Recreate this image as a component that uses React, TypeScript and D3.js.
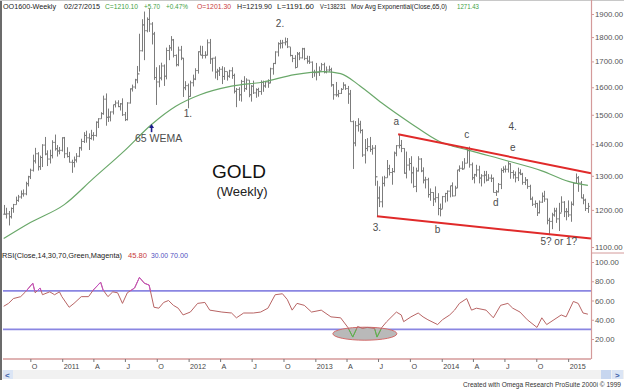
import React, { useEffect, useRef } from 'react';
import * as d3 from 'd3';

const width = 624;
const height = 390;

// visible date range of the chart and first weekly bar (week ending Friday)
const startDate = '2010-07-14';
const endDate = '2015-03-08';
const firstWeek = '2010-07-16';

// weekly bars: [high, low, close]
const bars2010 = [
  [1214, 1187, 1188], [1206, 1176, 1189], [1197, 1157, 1181], [1207, 1176, 1204],
  [1217, 1192, 1215], [1238, 1215, 1227], [1243, 1223, 1237], [1256, 1232, 1246],
  [1259, 1238, 1246], [1282, 1242, 1276], [1300, 1268, 1297], [1322, 1290, 1317],
  [1366, 1313, 1346], [1388, 1338, 1369], [1374, 1316, 1328], [1363, 1318, 1357],
  [1400, 1327, 1397], [1424, 1364, 1368], [1380, 1330, 1352], [1382, 1338, 1363],
  [1413, 1354, 1406], [1432, 1379, 1385], [1397, 1360, 1378], [1391, 1367, 1380],
  [1423, 1376, 1421],
];
const bars2011 = [
  [1424, 1355, 1369], [1390, 1357, 1360], [1375, 1341, 1342], [1350, 1309, 1341],
  [1360, 1326, 1349], [1371, 1341, 1361], [1391, 1358, 1388], [1418, 1379, 1409],
  [1440, 1404, 1429], [1445, 1405, 1421], [1436, 1381, 1419], [1448, 1415, 1429],
  [1440, 1412, 1429], [1477, 1425, 1474], [1488, 1454, 1486], [1509, 1486, 1504],
  [1569, 1500, 1556], [1577, 1462, 1491], [1522, 1475, 1492], [1512, 1477, 1510],
  [1536, 1501, 1536], [1551, 1526, 1542], [1552, 1527, 1529], [1542, 1515, 1539],
  [1559, 1496, 1500], [1510, 1478, 1483], [1545, 1480, 1542], [1596, 1540, 1594],
  [1610, 1584, 1601], [1632, 1594, 1628], [1682, 1615, 1651], [1814, 1660, 1743],
  [1877, 1740, 1852], [1911, 1705, 1827], [1885, 1820, 1876], [1923, 1822, 1856],
  [1864, 1769, 1813], [1822, 1628, 1637], [1677, 1535, 1620], [1685, 1600, 1635],
  [1695, 1626, 1682], [1688, 1605, 1642], [1756, 1630, 1744], [1767, 1705, 1755],
  [1804, 1743, 1788], [1792, 1716, 1724], [1728, 1680, 1687], [1760, 1681, 1746],
  [1763, 1705, 1713], [1714, 1564, 1598], [1623, 1589, 1606], [1614, 1523, 1566],
];
const bars2012 = [
  [1625, 1565, 1617], [1648, 1603, 1631], [1673, 1627, 1664], [1741, 1652, 1739],
  [1764, 1725, 1725], [1763, 1711, 1724], [1741, 1712, 1725], [1790, 1724, 1776],
  [1792, 1690, 1710], [1714, 1660, 1713], [1720, 1633, 1658], [1671, 1627, 1662],
  [1678, 1643, 1669], [1681, 1612, 1641], [1677, 1628, 1660], [1659, 1625, 1642],
  [1667, 1636, 1663], [1677, 1632, 1645], [1652, 1577, 1585], [1597, 1527, 1592],
  [1600, 1550, 1572], [1628, 1547, 1622], [1642, 1583, 1595], [1634, 1590, 1627],
  [1627, 1563, 1572], [1608, 1547, 1604], [1625, 1575, 1579], [1596, 1561, 1591],
  [1598, 1565, 1584], [1626, 1572, 1618], [1625, 1583, 1605], [1624, 1598, 1620],
  [1630, 1598, 1616], [1675, 1615, 1671], [1694, 1648, 1692], [1741, 1689, 1738],
  [1778, 1720, 1772], [1788, 1752, 1774], [1788, 1753, 1776], [1798, 1765, 1780],
  [1796, 1754, 1759], [1758, 1720, 1724], [1726, 1697, 1712], [1725, 1672, 1676],
  [1738, 1677, 1730], [1738, 1705, 1714], [1755, 1712, 1751], [1755, 1705, 1712],
  [1723, 1691, 1701], [1722, 1690, 1697], [1700, 1635, 1657], [1667, 1640, 1656],
];
const bars2013 = [
  [1694, 1626, 1656], [1680, 1643, 1662], [1694, 1664, 1687], [1695, 1653, 1658],
  [1680, 1653, 1666], [1683, 1660, 1667], [1675, 1602, 1609], [1612, 1554, 1572],
  [1620, 1565, 1572], [1590, 1563, 1577], [1597, 1575, 1592], [1619, 1594, 1608],
  [1611, 1590, 1595], [1605, 1539, 1575], [1590, 1476, 1476], [1480, 1321, 1404],
  [1478, 1393, 1462], [1488, 1442, 1467], [1479, 1436, 1446], [1450, 1359, 1365],
  [1417, 1338, 1386], [1420, 1377, 1392], [1424, 1375, 1383], [1397, 1366, 1387],
  [1397, 1270, 1297], [1285, 1180, 1234], [1268, 1208, 1223], [1298, 1207, 1277],
  [1300, 1268, 1294], [1349, 1294, 1322], [1334, 1301, 1310], [1324, 1273, 1313],
  [1376, 1310, 1371], [1397, 1361, 1395], [1433, 1386, 1396], [1414, 1374, 1386],
  [1387, 1306, 1308], [1376, 1292, 1333], [1355, 1316, 1338], [1361, 1277, 1309],
  [1328, 1264, 1268], [1325, 1251, 1315], [1361, 1313, 1352], [1355, 1311, 1315],
  [1326, 1277, 1287], [1297, 1262, 1288], [1294, 1235, 1244], [1262, 1226, 1250],
  [1251, 1211, 1231], [1268, 1221, 1235], [1248, 1185, 1204], [1218, 1182, 1202],
];
const bars2014 = [
  [1240, 1203, 1238], [1249, 1221, 1247], [1256, 1224, 1254], [1270, 1236, 1270],
  [1280, 1238, 1240], [1270, 1240, 1263], [1318, 1263, 1318], [1332, 1312, 1323],
  [1345, 1318, 1321], [1355, 1322, 1339], [1389, 1339, 1379], [1392, 1325, 1334],
  [1341, 1287, 1294], [1306, 1277, 1303], [1334, 1297, 1318], [1331, 1277, 1293],
  [1305, 1268, 1300], [1315, 1277, 1302], [1315, 1283, 1287], [1305, 1285, 1293],
  [1304, 1281, 1292], [1295, 1250, 1250], [1257, 1240, 1252], [1278, 1250, 1274],
  [1323, 1260, 1316], [1329, 1309, 1320], [1332, 1310, 1320], [1345, 1310, 1337],
  [1339, 1291, 1310], [1317, 1291, 1303], [1313, 1280, 1294], [1325, 1284, 1309],
  [1320, 1302, 1305], [1309, 1273, 1280], [1296, 1272, 1287], [1290, 1261, 1268],
  [1273, 1228, 1231], [1238, 1211, 1216], [1227, 1206, 1218], [1220, 1183, 1192],
  [1227, 1190, 1222], [1250, 1220, 1239], [1255, 1223, 1231], [1232, 1160, 1171],
  [1178, 1131, 1168], [1192, 1147, 1186], [1206, 1181, 1197], [1206, 1164, 1175],
  [1220, 1142, 1191], [1239, 1193, 1222], [1225, 1180, 1195], [1205, 1171, 1195],
];
const bars2015 = [
  [1227, 1180, 1186], [1224, 1167, 1216], [1280, 1212, 1277], [1307, 1276, 1294],
  [1299, 1252, 1278], [1284, 1233, 1234], [1245, 1216, 1228], [1232, 1197, 1204],
  [1219.9, 1191.6, 1210.1],
];

// 65 week exponential moving average
const ema65 = [
  ['2010-07-16', 1122], ['2010-10-01', 1165], ['2011-01-07', 1215], ['2011-04-01', 1292],
  ['2011-07-01', 1380], ['2011-09-16', 1466], ['2011-11-25', 1530], ['2012-02-03', 1572],
  ['2012-05-04', 1604], ['2012-08-03', 1620], ['2012-11-02', 1648], ['2013-01-25', 1660],
  ['2013-03-15', 1652], ['2013-05-10', 1605], ['2013-07-12', 1542], ['2013-10-04', 1470],
  ['2013-12-27', 1408], ['2014-03-21', 1380], ['2014-07-11', 1346], ['2014-10-17', 1315],
  ['2015-01-02', 1283], ['2015-02-27', 1271],
];

// RSI(14)
const rsi14 = [
  ['2010-07-16', 54], ['2010-07-30', 57], ['2010-08-13', 62], ['2010-09-03', 64],
  ['2010-09-17', 69], ['2010-10-08', 78], ['2010-10-15', 68], ['2010-10-29', 73],
  ['2010-11-05', 66], ['2010-11-26', 69], ['2010-12-10', 66], ['2010-12-24', 69],
  ['2010-12-31', 64], ['2011-01-21', 53], ['2011-02-04', 57], ['2011-02-25', 64],
  ['2011-03-18', 64], ['2011-04-01', 71], ['2011-04-22', 79], ['2011-04-29', 71],
  ['2011-05-13', 64], ['2011-05-27', 69], ['2011-06-10', 68], ['2011-06-24', 57],
  ['2011-07-08', 68], ['2011-07-29', 73], ['2011-08-12', 84], ['2011-08-26', 78],
  ['2011-09-09', 76], ['2011-09-23', 53], ['2011-10-07', 52], ['2011-10-21', 58],
  ['2011-11-04', 60], ['2011-11-18', 55], ['2011-12-02', 52], ['2011-12-16', 45],
  ['2012-01-06', 48], ['2012-01-27', 57], ['2012-02-17', 58], ['2012-03-02', 50],
  ['2012-04-06', 48], ['2012-05-04', 47], ['2012-05-18', 42], ['2012-06-08', 47],
  ['2012-07-06', 47], ['2012-07-27', 48], ['2012-08-17', 52], ['2012-09-07', 66],
  ['2012-09-28', 67], ['2012-10-12', 61], ['2012-10-26', 50], ['2012-11-09', 57],
  ['2012-11-30', 55], ['2012-12-21', 48], ['2013-01-18', 50], ['2013-02-15', 43],
  ['2013-03-15', 42], ['2013-04-05', 32], ['2013-04-19', 22], ['2013-05-03', 33],
  ['2013-05-17', 31], ['2013-05-31', 32], ['2013-06-21', 31], ['2013-06-28', 22],
  ['2013-07-12', 32], ['2013-07-26', 38], ['2013-08-23', 48], ['2013-09-06', 45],
  ['2013-09-13', 38], ['2013-10-04', 43], ['2013-10-25', 47], ['2013-11-08', 43],
  ['2013-11-22', 40], ['2013-12-20', 35], ['2014-01-03', 40], ['2014-01-24', 45],
  ['2014-02-07', 50], ['2014-02-21', 57], ['2014-03-14', 62], ['2014-03-28', 50],
  ['2014-04-11', 52], ['2014-05-09', 50], ['2014-05-30', 42], ['2014-06-20', 55],
  ['2014-07-11', 57], ['2014-07-25', 52], ['2014-08-15', 48], ['2014-09-05', 40],
  ['2014-10-03', 32], ['2014-10-17', 42], ['2014-10-31', 35], ['2014-11-21', 40],
  ['2014-12-12', 45], ['2014-12-26', 43], ['2015-01-16', 59], ['2015-01-30', 57],
  ['2015-02-13', 47], ['2015-02-27', 45.8],
];

// triangle channel drawn on the chart
const channelUpper = [['2013-08-28', 1433], ['2015-03-08', 1308]];
const channelLower = [['2013-06-28', 1182], ['2015-03-08', 1122]];

// wave count labels [text, date, price]
const waveLabels = [
  ['1.', '2011-12-30', 1492], ['2.', '2012-09-21', 1843], ['3.', '2013-06-28', 1142],
  ['a', '2013-08-23', 1466], ['b', '2013-12-20', 1137], ['c', '2014-03-14', 1420],
  ['d', '2014-06-06', 1212], ['e', '2014-07-25', 1377], ['4.', '2014-07-25', 1446],
  ['5? or 1?', '2014-12-05', 1104],
];
const emaNote = { text: '65 WEMA', date: '2011-09-16', tip: 1468, tail: 1440, labelPrice: 1408 };
const oversoldMark = { date: '2013-05-24', rsi: 25.5 };

const priceTicks = [1100, 1200, 1300, 1400, 1500, 1600, 1700, 1800, 1900];
const rsiTicks = [20, 40, 60, 80, 100];
const rsiLevels = [30, 70];

const headerTexts = [
  'OO1600-Weekly', '02/27/2015', 'C=1210.10', '+5.70', '+0.47%', 'O=1201.30',
  'H=1219.90', 'L=1191.60', 'V=138231', 'Mov Avg Exponential(Close,65,0)', '1271.43',
];
const headerKinds = ['n', 'n', 'up', 'up', 'up', 'dn', 'n', 'n', 'n', 'n', 'up'];
// layout of the header strip: start x and width of each item
const headerX = [3, 64, 105, 144, 166, 197, 237, 277, 320, 351, 457];
const headerW = [53, 36, 33, 16, 22, 34, 35, 37, 26, 96, 22];

const rsiTexts = ['RSI(Close,14,30,70,Green,Magenta)', '45.80', '30.00', '70.00'];
const rsiTextX = [2, 128, 151, 170];
const rsiTextW = [120, 19, 17, 18];

const monthLetters: Record<number, string> = { 3: 'A', 6: 'J', 9: 'O' };

const font = "'Liberation Sans', Arial, sans-serif";
const axisColor = '#d49a9a';

const App = (): JSX.Element => {
  const container = useRef<SVGSVGElement>(null);

  useEffect(() => {
    const svg = d3.select(container.current);
    svg.selectAll('*').remove();
    const parse = d3.timeParse('%Y-%m-%d');
    const p = (s: string) => parse(s) as Date;

    const x = d3.scaleTime().domain([p(startDate), p(endDate)]).range([3, 591]);
    const yPrice = d3.scaleLog().domain([1100, 1900]).range([247, 14]);
    const yRsi = d3.scaleLinear().domain([20, 100]).range([339, 262]);

    svg.append('rect').attr('width', width).attr('height', height).attr('fill', '#fff');

    // frame
    svg.append('line').attr('x1', 1).attr('x2', 1).attr('y1', 0).attr('y2', 380)
      .attr('stroke', '#6b6b6b').attr('stroke-width', 2);
    svg.append('line').attr('x1', 0).attr('x2', width).attr('y1', 0.5).attr('y2', 0.5)
      .attr('stroke', '#c8c8c8');

    // header
    svg.append('g').selectAll('text').data(headerTexts).join('text')
      .attr('x', (_, i) => headerX[i]).attr('y', 9)
      .attr('textLength', (_, i) => headerW[i]).attr('lengthAdjust', 'spacingAndGlyphs')
      .attr('font-family', font).attr('font-size', 6.6)
      .attr('fill', (_, i) => headerKinds[i] === 'up' ? '#3f9f3f' : headerKinds[i] === 'dn' ? '#c83c3c' : '#222')
      .text((d) => d);

    // weekly OHLC bars
    const allBars = [...bars2010, ...bars2011, ...bars2012, ...bars2013, ...bars2014, ...bars2015];
    const weeks = allBars.map((b, i) => ({
      date: d3.timeDay.offset(p(firstWeek), 7 * i),
      high: b[0], low: b[1], close: b[2],
      open: i > 0 ? allBars[i - 1][2] : b[2],
    }));
    svg.append('g').selectAll('path').data(weeks).join('path')
      .attr('d', (d) => {
        const cx = Math.round(x(d.date)) + 0.5;
        return `M${cx},${yPrice(d.high)}V${yPrice(d.low)}` +
          `M${cx - 1.3},${yPrice(d.open)}H${cx}` +
          `M${cx},${yPrice(d.close)}H${cx + 1.3}`;
      })
      .attr('stroke', '#7c7c7c').attr('stroke-width', 1).attr('fill', 'none');

    // EMA
    const emaLine = d3.line<any>()
      .x((d) => x(p(d[0]))).y((d) => yPrice(d[1]))
      .curve(d3.curveMonotoneX);
    svg.append('path').attr('d', emaLine(ema65) || '')
      .attr('fill', 'none').attr('stroke', '#6aa86a').attr('stroke-width', 1.2);

    // channel
    const straight = d3.line<any>().x((d) => x(p(d[0]))).y((d) => yPrice(d[1]));
    [channelUpper, channelLower].forEach((c) => {
      svg.append('path').attr('d', straight(c) || '')
        .attr('fill', 'none').attr('stroke', '#e02a2a').attr('stroke-width', 2);
    });

    // wave labels
    svg.append('g').selectAll('text').data(waveLabels).join('text')
      .attr('x', (d) => x(p(d[1] as string))).attr('y', (d) => yPrice(d[2] as number))
      .attr('text-anchor', 'middle')
      .attr('font-family', font).attr('font-size', 10).attr('fill', '#4d4d4d')
      .text((d) => d[0] as string);

    // 65 WEMA note
    const ax = x(p(emaNote.date));
    svg.append('path')
      .attr('d', `M${ax},${yPrice(emaNote.tail)}V${yPrice(emaNote.tip) + 3}`)
      .attr('stroke', '#1c1c8c').attr('stroke-width', 1.6);
    svg.append('path')
      .attr('d', `M${ax - 2.5},${yPrice(emaNote.tip) + 4}L${ax},${yPrice(emaNote.tip)}L${ax + 2.5},${yPrice(emaNote.tip) + 4}Z`)
      .attr('fill', '#1c1c8c');
    svg.append('text').attr('x', ax + 7).attr('y', yPrice(emaNote.labelPrice))
      .attr('text-anchor', 'middle').attr('font-family', font).attr('font-size', 10.5)
      .attr('fill', '#4d4d4d').text(emaNote.text);

    // title
    svg.append('text').attr('x', 239).attr('y', 178).attr('text-anchor', 'middle')
      .attr('font-family', font).attr('font-size', 19).attr('fill', '#111').text('GOLD');
    svg.append('text').attr('x', 242).attr('y', 196).attr('text-anchor', 'middle')
      .attr('font-family', font).attr('font-size', 13).attr('fill', '#222').text('(Weekly)');

    // RSI panel
    svg.append('g').selectAll('text').data(rsiTexts).join('text')
      .attr('x', (_, i) => rsiTextX[i]).attr('y', 258)
      .attr('textLength', (_, i) => rsiTextW[i]).attr('lengthAdjust', 'spacingAndGlyphs')
      .attr('font-family', font).attr('font-size', 7)
      .attr('fill', (_, i) => (i === 0 ? '#222' : i === 1 ? '#c84040' : '#5050c0'))
      .text((d) => d);

    svg.append('g').selectAll('line').data(rsiLevels).join('line')
      .attr('x1', 3).attr('x2', 591)
      .attr('y1', (d) => yRsi(d)).attr('y2', (d) => yRsi(d))
      .attr('stroke', '#8a86e2').attr('stroke-width', 1.6);

    svg.append('ellipse')
      .attr('cx', x(p(oversoldMark.date))).attr('cy', yRsi(oversoldMark.rsi))
      .attr('rx', 32).attr('ry', 6.5)
      .attr('fill', '#b9b9b9').attr('stroke', '#d26a6a').attr('stroke-width', 1);

    const defs = svg.append('defs');
    defs.append('clipPath').attr('id', 'over')
      .append('rect').attr('x', 0).attr('y', 250).attr('width', width).attr('height', yRsi(70) - 250);
    defs.append('clipPath').attr('id', 'under')
      .append('rect').attr('x', 0).attr('y', yRsi(30)).attr('width', width).attr('height', 360 - yRsi(30));

    const rsiLine = d3.line<any>().x((d) => x(p(d[0]))).y((d) => yRsi(d[1]));
    const rsiPath = rsiLine(rsi14) || '';
    svg.append('path').attr('d', rsiPath).attr('fill', 'none')
      .attr('stroke', '#b86464').attr('stroke-width', 1);
    svg.append('path').attr('d', rsiPath).attr('fill', 'none').attr('clip-path', 'url(#over)')
      .attr('stroke', '#c64fc6').attr('stroke-width', 1);
    svg.append('path').attr('d', rsiPath).attr('fill', 'none').attr('clip-path', 'url(#under)')
      .attr('stroke', '#4cc24c').attr('stroke-width', 1);

    // right axes
    svg.append('line').attr('x1', 591.5).attr('x2', 591.5).attr('y1', 0).attr('y2', 359)
      .attr('stroke', axisColor).attr('stroke-width', 1.2);
    svg.append('line').attr('x1', 591).attr('x2', width).attr('y1', 253).attr('y2', 253)
      .attr('stroke', axisColor).attr('stroke-width', 1);

    const priceAxis = svg.append('g').attr('transform', 'translate(591,0)')
      .call(d3.axisRight(yPrice).tickValues(priceTicks).tickFormat(d3.format('.2f')).tickSize(3).tickPadding(1));
    const rsiAxis = svg.append('g').attr('transform', 'translate(591,0)')
      .call(d3.axisRight(yRsi).tickValues(rsiTicks).tickFormat(d3.format('.2f')).tickSize(3).tickPadding(1));
    [priceAxis, rsiAxis].forEach((g) => {
      g.select('.domain').remove();
      g.selectAll('line').attr('stroke', axisColor);
      g.selectAll('text').attr('font-family', font).attr('font-size', 7.8).attr('fill', '#555');
    });

    // time axis
    svg.append('line').attr('x1', 3).attr('x2', 591).attr('y1', 359).attr('y2', 359)
      .attr('stroke', axisColor).attr('stroke-width', 1.4);
    const timeAxis = svg.append('g').attr('transform', 'translate(0,359)')
      .call(d3.axisBottom(x).ticks(d3.timeMonth.every(3))
        .tickFormat((d: any) => (d.getMonth() === 0 ? String(d.getFullYear()) : monthLetters[d.getMonth()]))
        .tickSize(3).tickPadding(2));
    timeAxis.select('.domain').remove();
    timeAxis.selectAll('line').attr('stroke', '#777');
    timeAxis.selectAll('text').attr('text-anchor', 'start').attr('x', 1)
      .attr('font-family', font).attr('font-size', 7.2).attr('fill', '#444');

    // scroll bar
    svg.append('rect').attr('x', 2).attr('y', 370).attr('width', 622).attr('height', 9).attr('fill', '#f1f1f1');
    svg.append('rect').attr('x', 3).attr('y', 370).attr('width', 10).attr('height', 9).attr('fill', '#dbe5f5');
    svg.append('rect').attr('x', 601).attr('y', 370).attr('width', 10).attr('height', 9).attr('fill', '#c7d6ef');
    svg.append('rect').attr('x', 612).attr('y', 370).attr('width', 11).attr('height', 9).attr('fill', '#dbe5f5');
    svg.append('text').attr('x', 5).attr('y', 378).attr('font-family', font).attr('font-size', 8)
      .attr('font-weight', 'bold').attr('fill', '#3d5fa8').text('<');
    svg.append('text').attr('x', 615).attr('y', 378).attr('font-family', font).attr('font-size', 8)
      .attr('font-weight', 'bold').attr('fill', '#3d5fa8').text('>');

    svg.append('text').attr('x', 463).attr('y', 387)
      .attr('textLength', 158).attr('lengthAdjust', 'spacingAndGlyphs')
      .attr('font-family', font).attr('font-size', 6.6).attr('fill', '#333')
      .text('Created with Omega Research ProSuite 2000i \u00a9 1999');
  }, []);

  return (
    <div style={{ position: 'absolute', left: 0, top: 0 }}>
      <svg ref={container} width={width} height={height} />
    </div>
  );
};

export default App;
